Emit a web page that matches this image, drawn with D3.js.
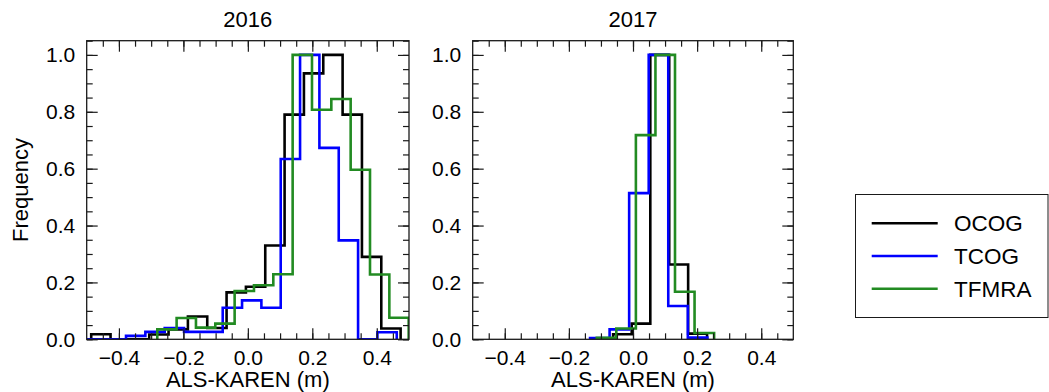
<!DOCTYPE html>
<html>
<head>
<meta charset="utf-8">
<script src="https://cdn.jsdelivr.net/npm/d3@7"></script>
<style>
  html, body { margin: 0; padding: 0; background: #fff; }
  svg text { font-family: "Liberation Sans", Arial, sans-serif; fill: #000; }
</style>
</head>
<body>
<svg id="chart" width="1049" height="392"></svg>
<script>
// Normalised histograms of ALS minus KAREN elevation differences (m)
const years = ["2016", "2017"];
const seriesNames = ["OCOG", "TCOG", "TFMRA"];
const xTickValues = [-0.4, -0.2, 0.0, 0.2, 0.4];
const yTickValues = [0.0, 0.2, 0.4, 0.6, 0.8, 1.0];

// 2016 bin edges and relative frequencies
const ocog2016Edges = [-0.486, -0.426, -0.366, -0.306, -0.246, -0.186, -0.126, -0.066, -0.006, 0.054, 0.114, 0.174, 0.234, 0.294, 0.354, 0.414, 0.474];
const ocog2016Freq  = [0.018, 0, 0, 0.017, 0.035, 0.080, 0.040, 0.165, 0.185, 0.330, 0.790, 0.935, 1.000, 0.790, 0.290, 0.038];
const tcog2016Edges = [-0.558, -0.498, -0.438, -0.378, -0.318, -0.258, -0.198, -0.138, -0.078, -0.018, 0.042, 0.102, 0.162, 0.222, 0.282, 0.342, 0.402, 0.462];
const tcog2016Freq  = [0, 0, 0, 0.012, 0.026, 0.040, 0.026, 0.026, 0.111, 0.137, 0.111, 0.634, 1.000, 0.673, 0.348, 0, 0.025];
const tfmra2016Edges = [-0.281, -0.221, -0.161, -0.101, -0.041, 0.019, 0.079, 0.139, 0.199, 0.259, 0.319, 0.379, 0.439, 0.499];
const tfmra2016Freq  = [0.035, 0.075, 0.041, 0.055, 0.170, 0.190, 0.229, 1.000, 0.807, 0.845, 0.596, 0.228, 0.076];

// 2017 bin edges and relative frequencies
const ocog2017Edges = [-0.062, -0.004, 0.054, 0.113, 0.172, 0.231];
const ocog2017Freq  = [0.018, 0.055, 1.000, 0.263, 0.020];
const tcog2017Edges = [-0.134, -0.073, -0.012, 0.049, 0.110, 0.171, 0.232];
const tcog2017Freq  = [0.004, 0.035, 0.514, 1.000, 0.117, 0.006];
const tfmra2017Edges = [-0.113, -0.052, 0.009, 0.070, 0.131, 0.192, 0.253];
const tfmra2017Freq  = [0.005, 0.038, 0.718, 1.000, 0.167, 0.022];

const histData = {
  "2016": [
    { name: "OCOG",  edges: ocog2016Edges,  freq: ocog2016Freq },
    { name: "TCOG",  edges: tcog2016Edges,  freq: tcog2016Freq },
    { name: "TFMRA", edges: tfmra2016Edges, freq: tfmra2016Freq }
  ],
  "2017": [
    { name: "OCOG",  edges: ocog2017Edges,  freq: ocog2017Freq },
    { name: "TCOG",  edges: tcog2017Edges,  freq: tcog2017Freq },
    { name: "TFMRA", edges: tfmra2017Edges, freq: tfmra2017Freq }
  ]
};

const colors = { OCOG: "#000000", TCOG: "#0000ff", TFMRA: "#228b22" };

const svg = d3.select("#chart");
const plotTop = 40.7, plotBottom = 339.3;
const panelBoxes = [
  { left: 86.7, right: 409.0 },
  { left: 472.7, right: 793.3 }
];
const frameColor = "#1a1a1a";
const tickFont = 21, labelFont = 22, titleFont = 22, legendFont = 22.5;
const fmtX = d3.format(".1f");
const fmtY = d3.format(".1f");

const y = d3.scaleLinear().domain([0, 1.05]).range([plotBottom, plotTop]);

years.forEach((year, pi) => {
  const box = panelBoxes[pi];
  const x = d3.scaleLinear().domain([-0.5, 0.5]).range([box.left, box.right]);
  const g = svg.append("g");

  const clipId = "clip" + year;
  svg.append("clipPath").attr("id", clipId)
    .append("rect")
    .attr("x", box.left).attr("y", plotTop)
    .attr("width", box.right - box.left).attr("height", plotBottom - plotTop);

  // step outlines
  const line = d3.line().x(d => x(d[0])).y(d => y(d[1]));
  histData[year].forEach(s => {
    const pts = [[s.edges[0], 0]];
    s.freq.forEach((f, i) => {
      pts.push([s.edges[i], f]);
      pts.push([s.edges[i + 1], f]);
    });
    pts.push([s.edges[s.edges.length - 1], 0]);
    g.append("path")
      .attr("d", line(pts))
      .attr("clip-path", `url(#${clipId})`)
      .attr("fill", "none")
      .attr("stroke", colors[s.name])
      .attr("stroke-width", 2.6)
      .attr("stroke-linejoin", "miter");
  });

  const xMinor = d3.range(-20, 21).map(k => k * 0.05).filter(v => v > -0.5 && v < 0.5);
  const yMinor = d3.range(0, 22).map(k => k * 0.05).filter(v => v <= 1.05);
  const majorLen = 11, minorLen = 6;

  function styleAxis(sel) {
    sel.select(".domain").remove();
    sel.selectAll(".tick line").attr("stroke", frameColor).attr("stroke-width", 1.2);
    sel.selectAll(".tick text").attr("font-size", tickFont).attr("fill", "#000");
  }

  // bottom axis: labelled major ticks + minor ticks, all inward
  g.append("g").attr("transform", `translate(0,${plotBottom})`)
    .call(d3.axisBottom(x).tickValues(xMinor).tickSize(-minorLen).tickFormat(""))
    .call(styleAxis);
  g.append("g").attr("transform", `translate(0,${plotBottom})`)
    .call(d3.axisBottom(x).tickValues(xTickValues).tickSize(-majorLen).tickPadding(10.5).tickFormat(fmtX))
    .call(styleAxis);
  // top axis
  g.append("g").attr("transform", `translate(0,${plotTop})`)
    .call(d3.axisTop(x).tickValues(xMinor).tickSize(-minorLen).tickFormat(""))
    .call(styleAxis);
  g.append("g").attr("transform", `translate(0,${plotTop})`)
    .call(d3.axisTop(x).tickValues(xTickValues).tickSize(-majorLen).tickFormat(""))
    .call(styleAxis);
  // left axis
  g.append("g").attr("transform", `translate(${box.left},0)`)
    .call(d3.axisLeft(y).tickValues(yMinor).tickSize(-minorLen).tickFormat(""))
    .call(styleAxis);
  g.append("g").attr("transform", `translate(${box.left},0)`)
    .call(d3.axisLeft(y).tickValues(yTickValues).tickSize(-majorLen).tickPadding(11.5).tickFormat(fmtY))
    .call(styleAxis);
  // right axis
  g.append("g").attr("transform", `translate(${box.right},0)`)
    .call(d3.axisRight(y).tickValues(yMinor).tickSize(-minorLen).tickFormat(""))
    .call(styleAxis);
  g.append("g").attr("transform", `translate(${box.right},0)`)
    .call(d3.axisRight(y).tickValues(yTickValues).tickSize(-majorLen).tickFormat(""))
    .call(styleAxis);

  // frame
  g.append("rect")
    .attr("x", box.left).attr("y", plotTop)
    .attr("width", box.right - box.left).attr("height", plotBottom - plotTop)
    .attr("fill", "none").attr("stroke", frameColor).attr("stroke-width", 1.3);

  // title
  g.append("text")
    .attr("x", (box.left + box.right) / 2).attr("y", 27.3)
    .attr("text-anchor", "middle").attr("font-size", titleFont)
    .text(year);

  // x label
  g.append("text")
    .attr("x", (box.left + box.right) / 2).attr("y", 386.5)
    .attr("text-anchor", "middle").attr("font-size", labelFont)
    .text("ALS-KAREN (m)");
});

// y label
svg.append("text")
  .attr("transform", `translate(27.5,${(plotTop + plotBottom) / 2}) rotate(-90)`)
  .attr("text-anchor", "middle").attr("font-size", labelFont)
  .text("Frequency");

// legend
const legend = svg.append("g");
legend.append("rect")
  .attr("x", 855.5).attr("y", 194.5).attr("width", 192.5).attr("height", 123)
  .attr("fill", "#fff").attr("stroke", "#1a1a1a").attr("stroke-width", 1);
const legendRowY = d3.scalePoint().domain(seriesNames).range([223.3, 288.7]);
seriesNames.forEach(name => {
  const ly = legendRowY(name);
  legend.append("line")
    .attr("x1", 871.7).attr("x2", 937.7).attr("y1", ly).attr("y2", ly)
    .attr("stroke", colors[name]).attr("stroke-width", 2.6);
  legend.append("text")
    .attr("x", 954).attr("y", ly).attr("dy", "0.36em")
    .attr("font-size", legendFont)
    .text(name);
});
</script>
</body>
</html>
